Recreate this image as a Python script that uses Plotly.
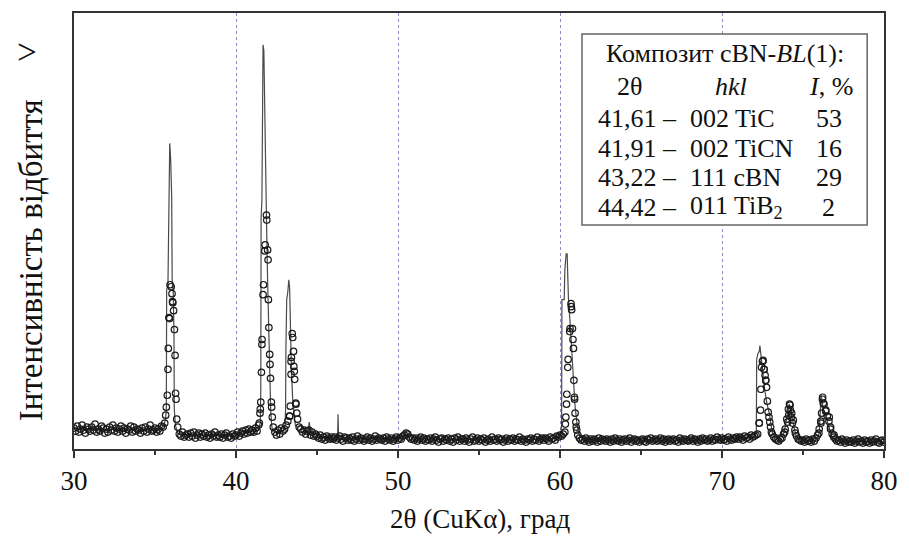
import numpy as np
import plotly.graph_objects as go

# ---------------- data ----------------
# observed points (circles): 0.1 deg grid from 30.0 to 80.0
obs_start, obs_step = 30.0, 0.1
obs_counts = [
    21,18,23,17,20,24,19,16,22,20,
    18,22,19,25,17,20,18,23,21,16,
    20,17,22,19,24,18,21,17,20,23,
    18,21,16,20,19,23,17,22,18,20,
    19,16,21,18,22,17,20,24,18,19,
    21,17,20,18,23,22,26,42,80,131,
    163,147,120,50,22,15,13,17,12,14,
    15,12,16,13,17,11,14,16,12,15,
    13,16,12,14,11,15,13,17,12,14,
    12,15,11,14,16,12,13,11,15,13,
    14,17,13,16,18,15,19,16,20,17,
    19,17,21,18,24,40,105,165,205,230,
    150,85,42,22,17,14,19,15,21,18,
    20,24,28,33,88,112,78,45,30,22,
    20,17,19,15,18,19,14,17,13,15,
    13,11,14,10,12,9,13,11,10,12,
    10,12,9,11,13,10,8,12,11,9,
    11,9,12,8,10,13,9,11,10,8,
    10,12,9,11,8,10,13,9,11,10,
    9,11,8,12,10,9,11,8,10,12,
    9,11,10,13,14,16,15,12,10,11,
    9,11,8,10,12,9,11,8,10,9,
    11,8,10,12,9,7,10,11,8,10,
    9,11,8,10,7,11,9,12,8,10,
    10,8,11,9,7,10,12,8,9,11,
    8,10,9,11,7,9,10,8,12,9,
    10,8,11,9,10,7,9,11,8,10,
    9,11,8,10,9,12,8,10,9,7,
    10,9,11,8,10,9,12,8,10,11,
    9,11,10,8,12,10,11,9,13,12,
    14,13,15,17,45,90,118,143,110,50,
    22,14,11,9,10,8,11,9,7,10,
    8,10,9,7,11,8,10,9,8,10,
    9,7,10,8,11,9,8,10,7,9,
    10,8,9,11,7,9,10,8,9,7,
    9,10,8,7,10,9,11,8,9,10,
    8,9,11,8,10,7,9,10,8,9,
    10,8,9,7,11,9,8,10,9,8,
    9,11,8,10,9,7,10,8,11,9,
    10,8,9,11,8,10,9,12,10,9,
    11,9,10,8,12,10,9,11,10,12,
    10,12,11,9,13,11,12,10,14,12,
    13,14,15,26,60,88,80,69,48,32,
    22,15,12,10,9,8,10,11,15,20,
    30,40,44,36,29,19,13,10,9,8,
    9,7,10,8,9,7,10,8,11,14,
    20,28,50,45,38,33,28,20,15,12,
    10,8,9,7,10,8,6,9,7,8,
    7,9,6,8,10,7,8,6,9,7,
    8,6,9,7,8,10,7,6,8,9,
    7,
]
# extra observed points on the peaks
obs_extra_x = [35.66,35.76,35.82,35.86,35.93,36.05,36.08,36.15,36.24,36.27,36.34,
               41.44,41.48,41.53,41.57,41.61,41.67,41.78,41.88,41.95,41.98,42.03,42.08,42.13,42.18,42.24,
               43.32,43.35,43.40,43.42,43.47,43.55,43.57,43.62,43.69,43.75,
               60.33,60.36,60.42,60.48,60.62,60.68,60.72,60.77,60.83,60.86,60.89,60.93,60.98,61.03,
               72.30,72.38,72.44,72.54,72.60,72.66,72.70,72.75,72.85,72.95,73.05,
               73.87,74.05,74.12,74.17,74.22,74.28,74.35,74.53,
               75.98,76.11,76.15,76.21,76.25,76.41,76.62,76.70,76.92]
obs_extra_y = [34,54,101,132,165,156,148,139,94,56,30,
               26,36,47,77,110,155,199,235,200,190,122,95,71,47,32,
               33,43,75,92,116,98,83,70,46,36,
               25,32,55,82,121,146,140,121,101,69,52,36,27,19,
               26,39,82,89,80,74,69,62,37,27,17,
               17,27,34,45,39,32,26,16,
               16,26,36,52,46,39,32,22,14]

# calculated profile (line): 0.2 deg grid background + dense peak segments
line_start, line_step = 30.0, 0.2
line_base = [
    20,18,21,19,20, 19,21,18,20,19, 20,18,21,19,20, 18,20,19,21,18, 19,20,18,21,19,
    20,19,21,22,25, 150,120,16,14,15, 14,15,13,14,15, 13,14,15,13,14, 14,13,15,14,13,
    15,16,15,17,16, 18,17,19,20,25, 100,40,18,16,17, 20,24,160,100,22, 24,20,18,17,16,
    14,13,12,12,11, 11,11,11,10,10, 10,11,10,10,11, 10,10,11,10,10, 10,11,10,10,11,
    10,11,13,15,12, 11,10,10,11,10, 10,10,11,10,9, 10,9,10,10,9, 10,9,10,9,10,
    9,10,9,10,9, 10,9,9,10,9, 9,10,9,9,10, 9,10,10,9,10, 10,10,11,11,12,
    150,180,196,150,90, 30,15,11,10,10, 10,9,10,9,9, 9,9,10,9,9, 9,9,8,9,9,
    9,8,9,9,8, 9,9,8,9,9, 8,9,9,8,9, 9,8,9,9,9, 9,9,10,9,10,
    10,10,10,11,10, 11,11,12,11,12, 12,96,80,50,40, 25,16,14,14,15, 33,42,33,26,10,
    9,9,8,9,11, 16,54,40,24,14, 9,8,8,8,8, 8,7,8,8,7, 8,7,8,8,7,
    7,
]
line_p1_x = [35.55,35.65,35.70,35.72,35.80,35.85,35.91,35.97,36.03,36.06,36.12,36.17,36.19,36.26,36.35]
line_p1_y = [24,30,40,160,166,254,307,290,254,170,160,120,40,24,17]
line_p2_x = [41.45,41.50,41.53,41.55,41.60,41.64,41.67,41.72,41.76,41.82,41.88,41.95,42.02,42.08,42.14,42.20,42.26]
line_p2_y = [22,28,60,232,250,390,406,400,349,280,232,170,115,75,40,24,18]
line_p3_x = [42.95,43.03,43.06,43.08,43.13,43.20,43.26,43.31,43.36,43.42,43.50,43.58,43.66]
line_p3_y = [20,24,40,100,150,158,170,162,120,80,50,32,24]
line_p4_x = [44.45,44.52,44.58]
line_p4_y = [17,27,18]
line_p5_x = [46.27,46.30,46.33]
line_p5_y = [11,35,11]
line_p6_x = [59.95,60.05,60.10,60.12,60.26,60.30,60.38,60.44,60.48,60.52,60.65,60.78,60.92,61.05,61.15,61.25]
line_p6_y = [12,15,25,150,150,180,196,196,160,152,120,80,45,25,16,12]
line_p7_x = [72.05,72.12,72.14,72.22,72.30,72.34,72.38,72.42,72.50,72.64,72.78,72.92,73.02,73.12]
line_p7_y = [12,18,90,96,98,104,100,92,80,59,45,36,25,16]
line_p8_x = [73.80,73.90,74.00,74.10,74.15,74.22,74.30,74.40,74.50,74.60]
line_p8_y = [15,22,33,42,45,40,33,26,18,12]
line_p9_x = [75.90,76.00,76.05,76.12,76.18,76.25,76.35,76.45,76.55,76.65,76.75,76.85]
line_p9_y = [12,16,40,54,48,40,36,30,24,19,14,11]

x_ticks = [30, 40, 50, 60, 70, 80]
x_title = "2θ (CuKα), град"
y_title = "Інтенсивність відбиття"
y_arrow = "&gt;"

legend_title = "Композит cBN-<i>BL</i>(1):"
legend_head = ["2θ", "<i>hkl</i>", "<i>I</i>, %"]
legend_angle = ["41,61 –", "41,91 –", "43,22 –", "44,42 –"]
legend_hkl = ["002 TiC", "002 TiCN", "111 cBN", "011 TiB<sub>2</sub>"]
legend_int = ["53", "16", "29", "2"]

# ---------------- assemble ----------------
obs_x = np.round(obs_start + obs_step * np.arange(len(obs_counts)), 2)
ox = np.concatenate([obs_x, obs_extra_x])
oy = np.concatenate([obs_counts, obs_extra_y])
order = np.argsort(ox, kind="stable")
ox, oy = ox[order], oy[order]

segs = [(line_p1_x, line_p1_y), (line_p2_x, line_p2_y), (line_p3_x, line_p3_y),
        (line_p4_x, line_p4_y), (line_p5_x, line_p5_y), (line_p6_x, line_p6_y),
        (line_p7_x, line_p7_y), (line_p8_x, line_p8_y), (line_p9_x, line_p9_y)]
lx = np.round(line_start + line_step * np.arange(len(line_base)), 2)
ly = np.array(line_base, dtype=float)
keep = np.ones(len(lx), dtype=bool)
for sx, sy in segs:
    keep &= ~((lx >= min(sx) - 1e-9) & (lx <= max(sx) + 1e-9))
LX = np.concatenate([lx[keep]] + [np.array(s[0]) for s in segs])
LY = np.concatenate([ly[keep]] + [np.array(s[1]) for s in segs])
o2 = np.argsort(LX, kind="stable")
LX, LY = LX[o2], LY[o2]

SERIF = "Liberation Serif"

fig = go.Figure()
fig.add_trace(go.Scatter(x=LX, y=LY, mode="lines",
                         line=dict(color="#4a4a4a", width=1.2), hoverinfo="skip"))
fig.add_trace(go.Scatter(x=ox, y=oy, mode="markers",
                         marker=dict(symbol="circle-open", size=6.5, color="#1a1a1a",
                                     line=dict(width=1.2, color="#1a1a1a")),
                         hoverinfo="skip"))

W, H = 909, 541
L, R, T, B = 74, 17, 11, 92
pw, ph = W - L - R, H - T - B

def px(xp):
    return (xp - L) / pw

def py(yp):
    return (H - B - yp) / ph

ann = []
ann.append(dict(text=x_title, x=px(484), y=py(519), xref="paper", yref="paper",
                showarrow=False, font=dict(family=SERIF, size=27, color="#111"),
                xanchor="center", yanchor="middle"))
ann.append(dict(text=y_title, x=px(30), y=py(259), xref="paper", yref="paper",
                showarrow=False, textangle=-90, font=dict(family=SERIF, size=33, color="#111"),
                xanchor="center", yanchor="middle"))
ann.append(dict(text=y_arrow, x=px(27), y=py(51), xref="paper", yref="paper",
                showarrow=False, font=dict(family=SERIF, size=35, color="#111"),
                xanchor="center", yanchor="middle"))

LF = dict(family=SERIF, size=26, color="#111")
ann.append(dict(text=legend_title, x=px(731), y=py(52), xref="paper", yref="paper",
                showarrow=False, font=LF, xanchor="center", yanchor="middle"))
for t, xc in zip(legend_head, [635, 737, 838]):
    ann.append(dict(text=t, x=px(xc), y=py(85), xref="paper", yref="paper",
                    showarrow=False, font=LF, xanchor="center", yanchor="middle"))
for i, yy in enumerate([117, 147, 176, 206]):
    ann.append(dict(text=legend_angle[i], x=px(601), y=py(yy), xref="paper", yref="paper",
                    showarrow=False, font=LF, xanchor="left", yanchor="middle"))
    ann.append(dict(text=legend_hkl[i], x=px(694), y=py(yy), xref="paper", yref="paper",
                    showarrow=False, font=LF, xanchor="left", yanchor="middle"))
    ann.append(dict(text=legend_int[i], x=px(836), y=py(yy), xref="paper", yref="paper",
                    showarrow=False, font=LF, xanchor="center", yanchor="middle"))

shapes = [dict(type="rect", xref="paper", yref="paper",
               x0=px(587), x1=px(875), y0=py(224), y1=py(32),
               line=dict(color="#666", width=1.5), fillcolor="white", layer="above")]

fig.update_layout(
    width=W, height=H, margin=dict(l=L, r=R, t=T, b=B),
    paper_bgcolor="white", plot_bgcolor="white", showlegend=False,
    annotations=ann, shapes=shapes,
    xaxis=dict(range=[30, 80], tickvals=x_ticks, ticks="outside", ticklen=7, tickwidth=1.5,
               tickcolor="#333", showline=True, mirror=True, linecolor="#333", linewidth=1.5,
               showgrid=True, gridcolor="#8c8cc0", griddash="dot", gridwidth=1,
               zeroline=False, tickfont=dict(family=SERIF, size=27, color="#111"),
               minor=dict(tickvals=[35, 45, 55, 65, 75], ticks="outside", ticklen=4,
                          tickwidth=1.5, tickcolor="#333", showgrid=False)),
    yaxis=dict(range=[0, 438], showticklabels=False, ticks="", showgrid=False,
               zeroline=False, showline=True, mirror=True, linecolor="#333", linewidth=1.5),
)
fig.write_html("out.html")
